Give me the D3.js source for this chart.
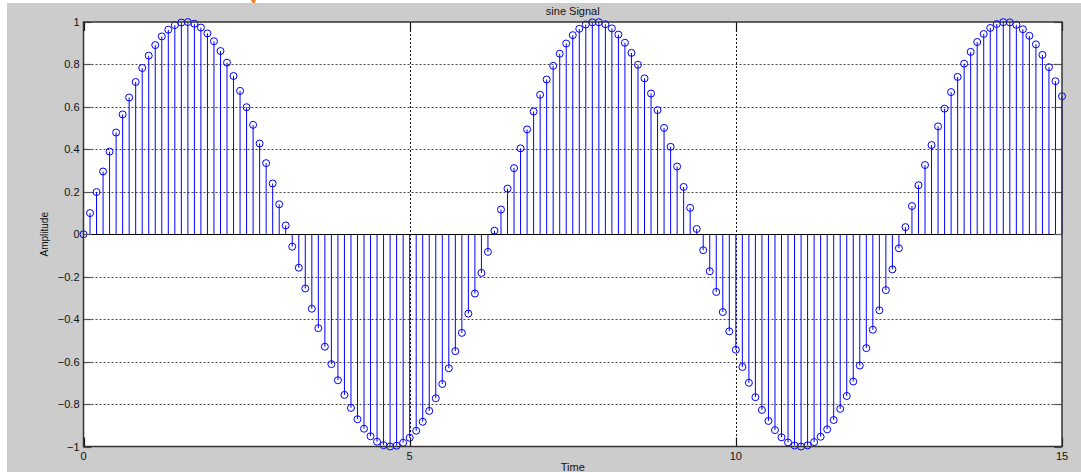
<!DOCTYPE html>
<html><head><meta charset="utf-8">
<script src="https://cdn.jsdelivr.net/npm/d3@7/dist/d3.min.js"></script>
<style>body{margin:0;background:#fff;}svg{display:block;font-family:"Liberation Sans",Arial,sans-serif;}</style>
</head><body><svg id="c" width="1081" height="473"></svg>
<script>
const chartTitle = "sine Signal";
const xLabel = "Time";
const yLabel = "Amplitude";
const timeValues = [0,0.1,0.2,0.3,0.4,0.5,0.6,0.7,0.8,0.9,1,1.1,1.2,1.3,1.4,1.5,1.6,1.7,1.8,1.9,2,2.1,2.2,2.3,2.4,2.5,2.6,2.7,2.8,2.9,3,3.1,3.2,3.3,3.4,3.5,3.6,3.7,3.8,3.9,4,4.1,4.2,4.3,4.4,4.5,4.6,4.7,4.8,4.9,5,5.1,5.2,5.3,5.4,5.5,5.6,5.7,5.8,5.9,6,6.1,6.2,6.3,6.4,6.5,6.6,6.7,6.8,6.9,7,7.1,7.2,7.3,7.4,7.5,7.6,7.7,7.8,7.9,8,8.1,8.2,8.3,8.4,8.5,8.6,8.7,8.8,8.9,9,9.1,9.2,9.3,9.4,9.5,9.6,9.7,9.8,9.9,10,10.1,10.2,10.3,10.4,10.5,10.6,10.7,10.8,10.9,11,11.1,11.2,11.3,11.4,11.5,11.6,11.7,11.8,11.9,12,12.1,12.2,12.3,12.4,12.5,12.6,12.7,12.8,12.9,13,13.1,13.2,13.3,13.4,13.5,13.6,13.7,13.8,13.9,14,14.1,14.2,14.3,14.4,14.5,14.6,14.7,14.8,14.9,15];
const amplitudeValues = [0,0.0998,0.1987,0.2955,0.3894,0.4794,0.5646,0.6442,0.7174,0.7833,0.8415,0.8912,0.9320,0.9636,0.9854,0.9975,0.9996,0.9917,0.9738,0.9463,0.9093,0.8632,0.8085,0.7457,0.6755,0.5985,0.5155,0.4274,0.3350,0.2392,0.1411,0.0416,-0.0584,-0.1577,-0.2555,-0.3508,-0.4425,-0.5298,-0.6119,-0.6878,-0.7568,-0.8183,-0.8716,-0.9162,-0.9516,-0.9775,-0.9937,-0.9999,-0.9962,-0.9825,-0.9589,-0.9258,-0.8835,-0.8323,-0.7728,-0.7055,-0.6313,-0.5507,-0.4646,-0.3739,-0.2794,-0.1822,-0.0831,0.0168,0.1165,0.2151,0.3115,0.4048,0.4941,0.5784,0.6570,0.7290,0.7937,0.8504,0.8987,0.9380,0.9679,0.9882,0.9985,0.9989,0.9894,0.9699,0.9407,0.9022,0.8546,0.7985,0.7344,0.6630,0.5849,0.5010,0.4121,0.3191,0.2229,0.1245,0.0248,-0.0752,-0.1743,-0.2718,-0.3665,-0.4575,-0.5440,-0.6251,-0.6999,-0.7677,-0.8278,-0.8797,-0.9228,-0.9566,-0.9809,-0.9954,-1.0000,-0.9946,-0.9792,-0.9540,-0.9193,-0.8755,-0.8228,-0.7620,-0.6937,-0.6185,-0.5366,-0.4500,-0.3582,-0.2632,-0.1656,-0.0663,0.0336,0.1330,0.2309,0.3262,0.4202,0.5083,0.5917,0.6697,0.7412,0.8038,0.8593,0.9058,0.9436,0.9720,0.9906,0.9994,0.9982,0.9870,0.9659,0.9349,0.8946,0.8451,0.7871,0.7210,0.6503];
const xTicks = [0,5,10,15];
const yTicks = [-1,-0.8,-0.6,-0.4,-0.2,0,0.2,0.4,0.6,0.8,1];

const svg = d3.select("#c");
const L = 83.5, R = 1062, T = 22, B = 446.5;
svg.append("rect").attr("x",7).attr("y",3).attr("width",1074).attr("height",469).attr("fill","#cccccc");
// small orange fragment at the top edge (cut-off mark in the original screenshot)
svg.append("path").attr("d","M251,0 L256,0 L254.5,3 L252.5,3 Z").attr("fill","#f08020");
svg.append("rect").attr("x",L).attr("y",T).attr("width",R-L).attr("height",B-T).attr("fill","#fff");

const x = d3.scaleLinear().domain([0,15]).range([L,R]);
const y = d3.scaleLinear().domain([-1,1]).range([B,T]);

// grid
const g = svg.append("g");
g.selectAll("line.gy").data(yTicks.filter(v=>v!==0 && Math.abs(v)!==1)).join("line")
  .attr("x1",L).attr("x2",R).attr("y1",d=>Math.round(y(d))+0.5).attr("y2",d=>Math.round(y(d))+0.5)
  .attr("stroke","#444").attr("stroke-dasharray","2,2").attr("stroke-width",1);
g.selectAll("line.gx").data(xTicks.filter(v=>v!==0 && v!==15)).join("line")
  .attr("y1",T).attr("y2",B).attr("x1",d=>Math.round(x(d))+0.5).attr("x2",d=>Math.round(x(d))+0.5)
  .attr("stroke","#111").attr("stroke-dasharray","2,2").attr("stroke-width",1);

// stems
const pts = timeValues.map((t,i)=>({t, v: amplitudeValues[i]}));
svg.append("g").selectAll("line").data(pts).join("line")
  .attr("x1",d=>x(d.t)).attr("x2",d=>x(d.t)).attr("y1",y(0)).attr("y2",d=>y(d.v))
  .attr("stroke","#0000ff").attr("stroke-width",1);
// baseline
svg.append("line").attr("x1",L).attr("x2",R).attr("y1",Math.round(y(0))+0.5).attr("y2",Math.round(y(0))+0.5)
  .attr("stroke","#000").attr("stroke-width",1.2);
// markers
svg.append("g").selectAll("circle").data(pts).join("circle")
  .attr("cx",d=>x(d.t)).attr("cy",d=>y(d.v)).attr("r",3.5)
  .attr("fill","none").attr("stroke","#0000ff").attr("stroke-width",1);

// ticks inside
const tk = svg.append("g").attr("stroke","#555").attr("stroke-width",1.2);
yTicks.forEach(v=>{
  const yy = Math.round(y(v))+0.5;
  tk.append("line").attr("x1",L).attr("x2",L+8).attr("y1",yy).attr("y2",yy);
  tk.append("line").attr("x1",R-8).attr("x2",R).attr("y1",yy).attr("y2",yy);
});
xTicks.forEach(v=>{
  const xx = Math.round(x(v))+0.5;
  tk.append("line").attr("x1",xx).attr("x2",xx).attr("y1",B).attr("y2",B-9).attr("stroke","#111");
  tk.append("line").attr("x1",xx).attr("x2",xx).attr("y1",T).attr("y2",T+9).attr("stroke","#111");
});

// frame
svg.append("rect").attr("x",L).attr("y",T).attr("width",R-L).attr("height",B-T)
  .attr("fill","none").attr("stroke","#333").attr("stroke-width",1.5);

// tick labels
svg.append("g").selectAll("text").data(yTicks).join("text")
  .attr("x",L-4).attr("y",d=>y(d)+4).attr("text-anchor","end").attr("font-size",11).attr("fill","#111")
  .text(d=>d3.format("")(d));
svg.append("g").selectAll("text").data(xTicks).join("text")
  .attr("x",d=>x(d)).attr("y",B+13).attr("text-anchor","middle").attr("font-size",11).attr("fill","#111")
  .text(d=>d);

svg.append("text").attr("x",(L+R)/2).attr("y",15).attr("text-anchor","middle").attr("font-size",11).attr("fill","#111").text(chartTitle);
svg.append("text").attr("x",(L+R)/2).attr("y",471).attr("text-anchor","middle").attr("font-size",11).attr("fill","#111").text(xLabel);
svg.append("text").attr("transform",`translate(48,${(T+B)/2}) rotate(-90)`).attr("text-anchor","middle").attr("font-size",10).attr("fill","#111").text(yLabel);
</script></body></html>
